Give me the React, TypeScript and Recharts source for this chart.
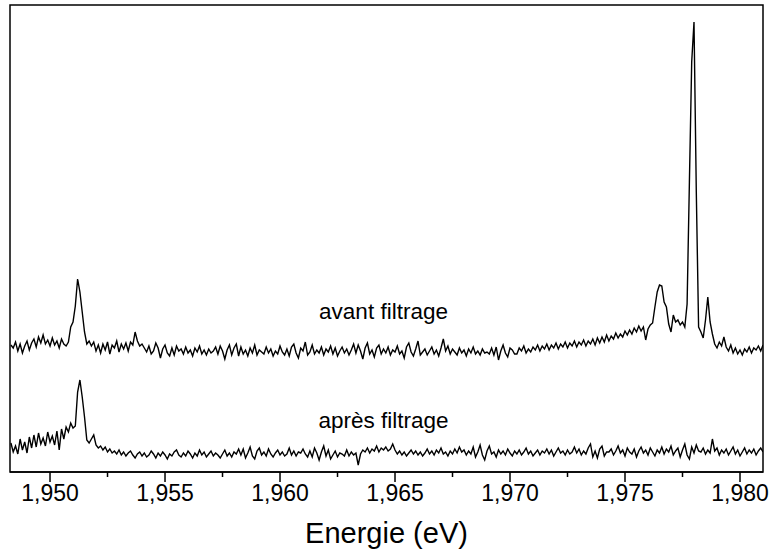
import React from "react";
import { LineChart, Line, XAxis, YAxis, ReferenceArea, ReferenceDot } from "recharts";

// energy grid of the spectra (eV)
const energyStart = 1.9483;
const energyStep = 0.0001;

// spectrum before filtering (arb. units, stacked offset)
const avant = [
  127, 124, 130, 121, 128, 119, 126, 131, 122, 129,
  133, 125, 135, 129, 137, 128, 132, 126, 134, 127,
  131, 124, 133, 128, 126, 130, 145, 150, 166, 193,
  180, 160, 140, 128, 131, 126, 130, 121, 127, 119,
  128, 122, 130, 118, 127, 124, 131, 120, 128, 123,
  129, 121, 130, 127, 140, 131, 126, 128, 124, 120,
  126, 118, 121, 129, 124, 114, 123, 127, 119, 116,
  124, 117, 126, 121, 123, 118, 125, 119, 122, 116,
  124, 120, 126, 118, 122, 117, 123, 119, 121, 125,
  118, 126, 121, 113, 122, 127, 117, 124, 128, 116,
  125, 118, 122, 116, 124, 119, 127, 117, 122, 120,
  118, 125, 119, 123, 116, 121, 118, 126, 120, 117,
  123, 116, 125, 128, 119, 114, 124, 121, 130, 117,
  120, 127, 118, 122, 119, 125, 117, 123, 120, 126,
  118, 124, 116, 121, 125, 119, 123, 117, 122, 128,
  119, 127, 121, 113, 124, 129, 118, 122, 115, 124,
  127, 118, 123, 119, 125, 117, 122, 120, 126, 118,
  121, 114, 125, 129, 120, 116, 123, 131, 117, 120,
  123, 117, 121, 125, 118, 122, 116, 124, 133, 121,
  126, 118, 123, 120, 117, 124, 119, 122, 116, 123,
  119, 125, 118, 121, 117, 123, 119, 120, 118, 124,
  117, 125, 112, 121, 127, 119, 115, 124, 122, 118,
  118, 124, 121, 126, 119, 123, 120, 125, 122, 127,
  121, 126, 123, 128, 122, 127, 124, 129, 123, 128,
  125, 130, 124, 129, 126, 131, 125, 130, 127, 132,
  126, 131, 128, 133, 127, 134, 129, 135, 130, 137,
  131, 136, 133, 139, 134, 138, 135, 141, 137, 142,
  138, 144, 140, 146, 141, 145, 132, 143, 147, 149,
  165, 180, 187, 186, 170, 165, 148, 140, 157, 150,
  152, 147, 150, 145, 168, 290, 410, 450, 280, 145,
  140, 134, 152, 175, 150, 138, 128, 124, 130, 126,
  135, 125, 121, 127, 119, 124, 118, 122, 117, 123,
  120, 125, 119, 124, 122, 126, 121, 127,
];

// spectrum after filtering
const apres = [
  29, 20, 26, 18, 33, 22, 30, 19, 35, 24,
  37, 25, 39, 28, 34, 26, 40, 30, 36, 27,
  41, 22, 43, 33, 45, 40, 49, 44, 46, 80,
  92, 75, 55, 32, 29, 33, 37, 27, 24, 26,
  22, 25, 20, 23, 19, 21, 18, 22, 17, 20,
  16, 19, 21, 17, 14, 18, 20, 16, 19, 15,
  17, 21, 18, 14, 19, 16, 20, 17, 13, 18,
  16, 20, 22, 17, 15, 19, 16, 21, 18, 14,
  19, 16, 22, 17, 20, 15, 18, 21, 16, 19,
  17, 14, 18, 22, 16, 19, 15, 20, 18, 23,
  17, 23, 14, 19, 25, 16, 13, 21, 24, 17,
  20, 16, 23, 18, 15, 19, 22, 17, 20, 16,
  18, 24, 17, 21, 16, 20, 19, 23, 18, 15,
  21, 15, 24, 19, 12, 20, 26, 16, 22, 13,
  17, 21, 15, 19, 18, 16, 22, 16, 20, 17,
  19, 7, 18, 22, 20, 24, 19, 23, 21, 26,
  20, 24, 22, 25, 21, 23, 28, 22, 18, 21,
  17, 20, 16, 19, 22, 18, 21, 17, 20, 16,
  19, 23, 18, 21, 17, 22, 19, 24, 18, 20,
  16, 21, 18, 23, 19, 25, 20, 22, 17, 21,
  18, 25, 15, 20, 27, 17, 12, 21, 26, 18,
  20, 15, 22, 18, 21, 17, 23, 19, 16, 21,
  18, 22, 17, 20, 24, 18, 21, 16, 19, 22,
  17, 21, 19, 23, 18, 22, 16, 20, 24, 19,
  21, 17, 22, 18, 20, 25, 19, 23, 17, 21,
  18, 24, 28, 15, 21, 14, 23, 26, 16, 20,
  20, 23, 17, 21, 26, 19, 22, 16, 24, 20,
  18, 23, 15, 21, 25, 19, 22, 17, 24, 20,
  16, 22, 19, 25, 18, 23, 20, 26, 17, 21,
  24, 15, 22, 28, 17, 13, 25, 19, 27, 21,
  20, 24, 18, 22, 19, 33, 21, 24, 17, 22,
  19, 23, 17, 21, 25, 18, 22, 16, 20, 24,
  18, 22, 19, 23, 17, 21, 24, 20,
];

const xDomain = [1.94826, 1.981];
const yDomain = [0, 467];
const xTicks = [1.95, 1.9525, 1.955, 1.9575, 1.96, 1.9625, 1.965, 1.9675, 1.97, 1.9725, 1.975, 1.9775, 1.98];
const majorTicks = [1.95, 1.955, 1.96, 1.965, 1.97, 1.975, 1.98];

const data = avant.map((v, i) => ({
  energy: Number((energyStart + i * energyStep).toFixed(4)),
  avant: v,
  apres: apres[i],
}));

const EnergyTick = (props: any) => {
  const { x, y, payload } = props;
  const major = majorTicks.includes(payload.value);
  return (
    <g>
      <line x1={x} y1={y} x2={x} y2={y + (major ? 10 : 5)} stroke="#000" strokeWidth={1.5} />
      {major && (
        <text x={x} y={y + 29} textAnchor="middle" fontSize={23} fill="#000">
          {payload.value.toFixed(3).replace(".", ",")}
        </text>
      )}
    </g>
  );
};

export default function App() {
  return (
    <div style={{ position: "absolute", left: 0, top: 0, fontFamily: "'Liberation Sans', Arial, sans-serif", background: "#fff" }}>
      <LineChart width={773} height={552} data={data} margin={{ top: 5, right: 10, left: 10, bottom: 0 }}>
        <XAxis
          dataKey="energy"
          type="number"
          domain={xDomain}
          ticks={xTicks}
          interval={0}
          allowDataOverflow
          height={80}
          tickSize={0}
          tickMargin={0}
          tickLine={false}
          axisLine={{ stroke: "#000", strokeWidth: 1.5 }}
          tick={<EnergyTick />}
          label={{ value: "Energie (eV)", position: "insideBottom", offset: 9, fontSize: 29, fill: "#000" }}
        />
        <YAxis type="number" domain={yDomain} hide />
        <ReferenceArea x1={xDomain[0]} x2={xDomain[1]} y1={yDomain[0]} y2={yDomain[1]} fill="none" stroke="#000" strokeWidth={1.5} />
        <Line type="linear" dataKey="avant" stroke="#000" strokeWidth={1.4} dot={false} isAnimationActive={false} />
        <Line type="linear" dataKey="apres" stroke="#000" strokeWidth={1.4} dot={false} isAnimationActive={false} />
        <ReferenceDot x={1.9645} y={161} r={0} stroke="none" fill="none" label={{ value: "avant filtrage", position: "center", fontSize: 22.5, fill: "#000" }} />
        <ReferenceDot x={1.9645} y={52} r={0} stroke="none" fill="none" label={{ value: "après filtrage", position: "center", fontSize: 22.5, fill: "#000" }} />
      </LineChart>
    </div>
  );
}
